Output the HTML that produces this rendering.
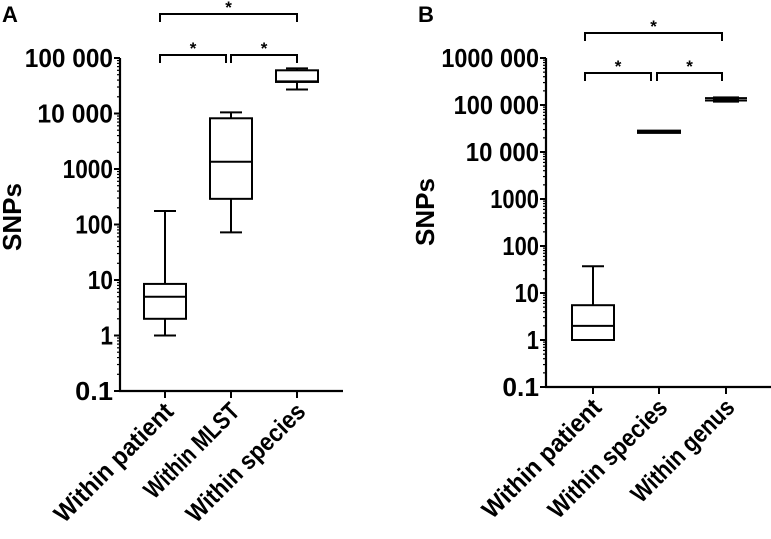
<!DOCTYPE html>
<html><head><meta charset="utf-8"><style>
html,body{margin:0;padding:0;background:#fff;}
svg{display:block;font-family:"Liberation Sans",Arial,sans-serif;}
</style></head><body>
<svg id="c" width="771" height="539" viewBox="0 0 771 539" xmlns="http://www.w3.org/2000/svg"></svg>
<script>
// Panel A data
const catsA = ["Within patient","Within MLST","Within species"];
const minA = [1, 72, 27000];
const q1A = [2, 290, 37000];
const medA = [5, 1350, 38000];
const q3A = [8.5, 8200, 60000];
const maxA = [175, 10500, 65000];
const ticksA = ["0.1","1","10","100","1000","10 000","100 000"];
const tickValsA = [0.1,1,10,100,1000,10000,100000];
// Panel B data
const catsB = ["Within patient","Within species","Within genus"];
const minB = [1, 26000, 125000];
const q1B = [1, 25500, 118000];
const medB = [2, 27000, 130000];
const q3B = [5.5, 28500, 145000];
const maxB = [37, 28000, 140000];
const ticksB = ["0.1","1","10","100","1000","10 000","100 000","1000 000"];
const tickValsB = [0.1,1,10,100,1000,10000,100000,1000000];

const NS="http://www.w3.org/2000/svg";
const svg=document.getElementById('c');
function el(tag,attrs,parent){const e=document.createElementNS(NS,tag);for(const k in attrs)e.setAttribute(k,attrs[k]);(parent||svg).appendChild(e);return e;}

function panel(cfg){
  const g=el('g',{});
  
  
  const y=v=>cfg.y0-(Math.log10(v)+1)*cfg.dec;
  const xTop=y(cfg.tickVals[cfg.tickVals.length-1]);
  const ya=el('line',{x1:cfg.ax,y1:xTop,x2:cfg.ax,y2:cfg.y0,stroke:'#000','stroke-width':2.2},g);
  
  
  const xa=el('line',{x1:cfg.ax-1,y1:cfg.y0,x2:cfg.xEnd,y2:cfg.y0,stroke:'#000','stroke-width':2.2},g);
  
  
  for(let i=0;i<cfg.tickVals.length;i++){
    const v=cfg.tickVals[i],yy=y(v);
    el('line',{x1:cfg.ax-6,y1:yy,x2:cfg.ax,y2:yy,stroke:'#000','stroke-width':2},g);
    const t=el('text',{x:cfg.ax-7,y:yy+9,'text-anchor':'end','font-size':26,'font-weight':'bold',fill:'#000',textLength:cfg.tw(cfg.ticks[i]),lengthAdjust:'spacingAndGlyphs'},g);
    t.textContent=cfg.ticks[i];
    
    
    if(i<cfg.tickVals.length-1){
      for(let m=2;m<=9;m++){const my=y(v*m);el('line',{x1:cfg.ax-3,y1:my,x2:cfg.ax,y2:my,stroke:'#000','stroke-width':1.2},g);}
    }
  }
  const yt=el('text',{x:cfg.titleX,y:cfg.titleY,'text-anchor':'middle','font-size':26,'font-weight':'bold',transform:`rotate(-90 ${cfg.titleX} ${cfg.titleY})`},g);
  yt.textContent='SNPs';
  
  
  for(let i=0;i<cfg.cats.length;i++){
    const cx=cfg.cx[i];
    el('line',{x1:cx,y1:cfg.y0,x2:cx,y2:cfg.y0+7,stroke:'#000','stroke-width':2},g);
    const lx=cx+10,ly=cfg.y0+22;
    const lab=el('text',{x:lx,y:ly,'text-anchor':'end','font-size':25,'font-weight':'bold',transform:`rotate(-45 ${lx} ${ly})`,textLength:cfg.cats[i].length*11.2,lengthAdjust:'spacingAndGlyphs'},g);
    lab.textContent=cfg.cats[i];
    
    
    const bw=cfg.bw[i], cap=cfg.cap[i];
    const bg=el('g',{},g);
    
    
    const s={stroke:'#000','stroke-width':2,fill:'none'};
    el('line',Object.assign({x1:cx,y1:y(cfg.max[i]),x2:cx,y2:y(cfg.q3[i])},s),bg);
    el('line',Object.assign({x1:cx,y1:y(cfg.min[i]),x2:cx,y2:y(cfg.q1[i])},s),bg);
    el('line',Object.assign({x1:cx-cap,y1:y(cfg.max[i]),x2:cx+cap,y2:y(cfg.max[i])},s),bg);
    el('line',Object.assign({x1:cx-cap,y1:y(cfg.min[i]),x2:cx+cap,y2:y(cfg.min[i])},s),bg);
    const top=y(cfg.q3[i]),bot=y(cfg.q1[i]);
    el('rect',Object.assign({x:cx-bw,y:top,width:2*bw,height:Math.max(bot-top,0.5)},s),bg);
    el('line',Object.assign({x1:cx-bw,y1:y(cfg.med[i]),x2:cx+bw,y2:y(cfg.med[i])},s),bg);
  }
  for(const b of cfg.brackets){
    const bg=el('g',{},g);
    
    
    el('polyline',{points:`${b[0]},${b[2]+8} ${b[0]},${b[2]} ${b[1]},${b[2]} ${b[1]},${b[2]+8}`,fill:'none',stroke:'#000','stroke-width':2},bg);
    const st=el('text',{x:(b[0]+b[1])/2,y:b[2]-1,'text-anchor':'middle','font-size':17,'font-weight':'bold'},bg);
    st.textContent='*';
  }
  const pl=el('text',{x:cfg.px,y:22,'font-size':22,'font-weight':'bold'},g);
  pl.textContent=cfg.letter;
  
  
}
const tw=s=>s.length*12.6;
panel({name:'panel-a',letter:'A',px:2,cats:catsA,min:minA,q1:q1A,med:medA,q3:q3A,max:maxA,ticks:ticksA,tickVals:tickValsA,
  ax:120,y0:391,dec:55.5,xEnd:343,cx:[165,231,297],bw:[21,21,21],cap:[11,11,11],titleX:21,titleY:217,tw:tw,
  brackets:[[160,297,14],[160,226,55],[231,297,55]]});
panel({name:'panel-b',letter:'B',px:418,cats:catsB,min:minB,q1:q1B,med:medB,q3:q3B,max:maxB,ticks:ticksB,tickVals:tickValsB,
  ax:546,y0:387,dec:47,xEnd:771,cx:[593,659,726],bw:[21,21,12],cap:[11,21,21],titleX:434,titleY:212,tw:s=>s.length*12.2,
  brackets:[[585,651,73],[657,722,73],[585,722,33]]});
</script>
</body></html>
